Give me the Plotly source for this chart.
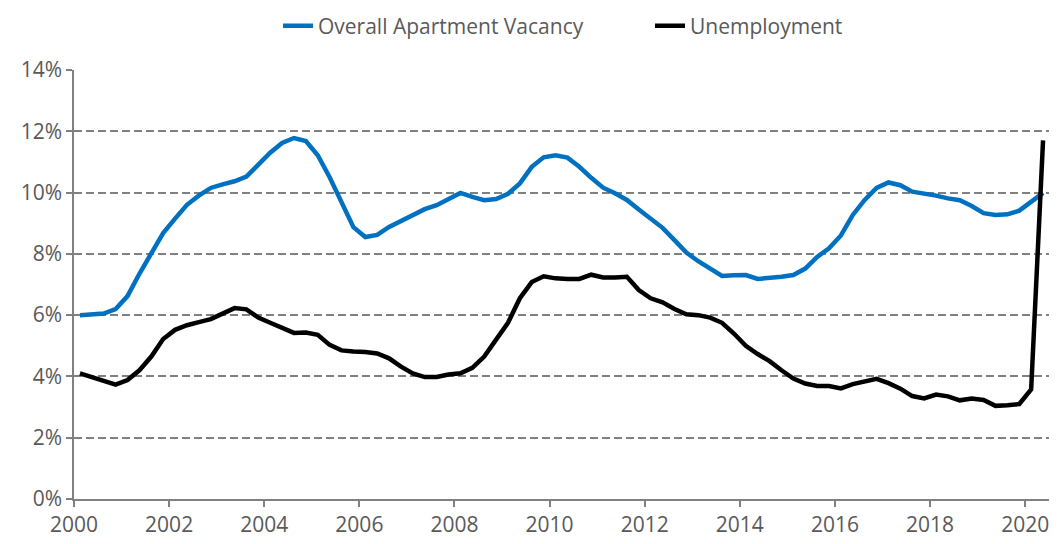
import plotly.graph_objects as go

# Quarterly data, 2000 Q1 .. 2020 Q2 (plotted at mid-quarter)
years = list(range(2000, 2021))
quarters = [(y, q) for y in years for q in range(1, 5)][:82]
x_dates = [y + (q - 0.5) / 4 for (y, q) in quarters]

vacancy = [
    6.00, 6.02, 6.05, 6.20, 6.62, 7.35, 8.00, 8.68, 9.15, 9.60,
    9.90, 10.15, 10.27, 10.37, 10.52, 10.90, 11.30, 11.62, 11.78, 11.68,
    11.22, 10.50, 9.65, 8.87, 8.55, 8.62, 8.88, 9.08, 9.30, 9.46,
    9.59, 9.80, 9.99, 9.86, 9.75, 9.79, 9.96, 10.30, 10.84, 11.15,
    11.22, 11.14, 10.84, 10.48, 10.16, 9.98, 9.76, 9.45, 9.15, 8.85,
    8.45, 8.04, 7.76, 7.50, 7.28, 7.30, 7.31, 7.18, 7.20, 7.25,
    7.31, 7.52, 7.90, 8.18, 8.60, 9.27, 9.76, 10.15, 10.33, 10.24,
    10.03, 9.97, 9.90, 9.81, 9.75, 9.56, 9.33, 9.27, 9.29, 9.41,
    9.68, 9.99,
]

unemployment = [
    4.10, 3.98, 3.87, 3.73, 3.88, 4.20, 4.65, 5.22, 5.52, 5.67,
    5.77, 5.87, 6.05, 6.23, 6.19, 5.92, 5.75, 5.60, 5.42, 5.43,
    5.36, 5.03, 4.85, 4.81, 4.80, 4.75, 4.59, 4.32, 4.10, 3.98,
    3.98, 4.06, 4.10, 4.28, 4.65, 5.20, 5.75, 6.55, 7.08, 7.27,
    7.20, 7.18, 7.18, 7.32, 7.23, 7.23, 7.25, 6.82, 6.55, 6.42,
    6.20, 6.03, 6.00, 5.92, 5.75, 5.40, 5.00, 4.73, 4.50, 4.20,
    3.93, 3.77, 3.69, 3.69, 3.61, 3.75, 3.85, 3.92, 3.78, 3.60,
    3.36, 3.28, 3.41, 3.35, 3.22, 3.28, 3.23, 3.04, 3.06, 3.10,
    3.58, 11.70,
]

x_ticks = list(range(2000, 2021, 2))
y_ticks = list(range(0, 15, 2))

fig = go.Figure()
fig.add_trace(go.Scatter(
    x=x_dates, y=vacancy, mode="lines", name="Overall Apartment Vacancy",
    line=dict(color="#0070C0", width=4.5),
))
fig.add_trace(go.Scatter(
    x=x_dates, y=unemployment, mode="lines", name="Unemployment",
    line=dict(color="#000000", width=4.5),
))

font_family = "Open Sans"
grey = "#808080"
text_grey = "#595959"

fig.update_layout(
    width=1062, height=544,
    margin=dict(l=66, r=21, t=62, b=53, autoexpand=False),
    paper_bgcolor="white", plot_bgcolor="white",
    font=dict(family=font_family, size=21, color=text_grey),
    showlegend=True,
    legend=dict(
        orientation="h", xref="container", x=270 / 1062, xanchor="left",
        yref="container", y=1 - 18 / 544, yanchor="middle",
        font=dict(family=font_family, size=21, color=text_grey),
        entrywidth=327, entrywidthmode="pixels",
        borderwidth=0, bgcolor="rgba(0,0,0,0)",
    ),
    xaxis=dict(
        range=[2000, 2020.5], tickmode="array", tickvals=x_ticks,
        ticktext=[str(v) for v in x_ticks],
        showgrid=False, zeroline=False, automargin=False,
        showline=True, linecolor=grey, linewidth=1.5,
        ticks="outside", ticklen=6, tickcolor=grey, tickwidth=1.5,
        tickfont=dict(size=21, color=text_grey),
    ),
    yaxis=dict(
        range=[0, 14], tickmode="array", tickvals=y_ticks,
        ticktext=[f"{v}%" for v in y_ticks],
        showgrid=True, gridcolor=grey, gridwidth=1.5, griddash="8px,4px",
        zeroline=False, automargin=False,
        showline=True, linecolor=grey, linewidth=1.5,
        ticks="outside", ticklen=6, tickcolor=grey, tickwidth=1.5,
        tickfont=dict(size=21, color=text_grey),
    ),
)

fig.write_html("out.html")
